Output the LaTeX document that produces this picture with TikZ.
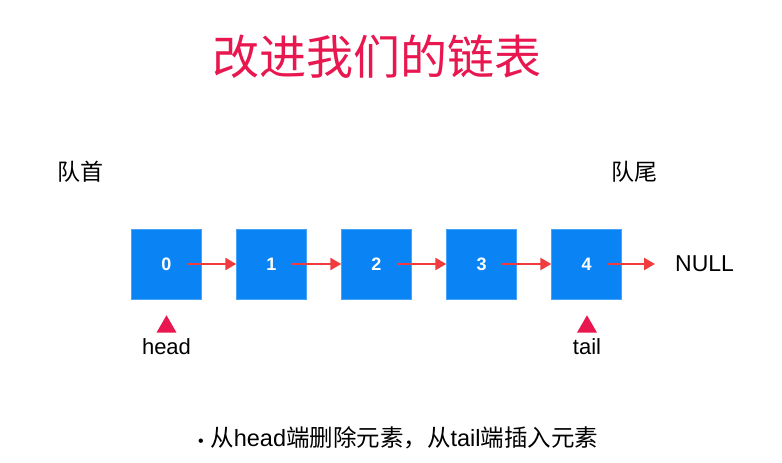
\documentclass[tikz,border=0pt]{standalone}
\usepackage{fontspec}
\setmainfont{Liberation Sans}
\newfontfamily\cjk{Noto Sans CJK SC}
\usetikzlibrary{positioning,arrows.meta,shapes.geometric}
\definecolor{cellblue}{HTML}{0A84F5}
\definecolor{linkred}{HTML}{F03C3C}
\definecolor{titlered}{HTML}{E8174F}

\begin{document}
\begin{tikzpicture}[x=1pt,y=-1pt,
    cell/.style={draw=cellblue!75!white, fill=cellblue, minimum width=70pt, minimum height=70pt, inner sep=0pt, text=white, font=\fontsize{18}{18}\selectfont\bfseries},
    link/.style={linkred, line width=2.4pt, -{Triangle[length=11pt,width=12pt]}},
    pointer/.style={fill=titlered, regular polygon, regular polygon sides=3, minimum size=23pt, inner sep=0pt},
    label/.style={inner sep=0pt, font=\fontsize{22}{22}\selectfont}]
    \useasboundingbox (0,0) rectangle (782,463);

    \node[inner sep=0pt, text=titlered, font=\cjk\fontsize{47}{47}\selectfont] (title) at (377,57) {改进我们的链表};
    \node[label, font=\cjk\fontsize{23}{23}\selectfont] (front) at (80,172) {队首};
    \node[label, font=\cjk\fontsize{23}{23}\selectfont] (rear) at (634,172) {队尾};

    \foreach \i in {0,...,4}
        \node[cell] (n\i) at (166.5+105*\i,264) {\i};
    \foreach \i [evaluate=\i as \j using int(\i+1)] in {0,...,3}
        \draw[link] ([xshift=20pt]n\i.center) -- (n\j.west);

    \node[label, anchor=west, font=\fontsize{23}{23}\selectfont] (null) at (675,264) {NULL};
    \draw[link] ([xshift=20pt]n4.center) -- ([xshift=-20pt]null.west |- n4.center);

    \node[label] (head) at (166.5,347) {head};
    \node[label] (tail) at (587,347) {tail};
    \node[pointer, above=6pt of head] (hp) {};
    \node[pointer, above=6pt of tail] (tp) {};

    \node[label, anchor=west, font=\fontsize{23.5}{23.5}\selectfont] (note) at (198,438) {{\fontsize{16}{16}\selectfont•}\ {\cjk 从}head{\cjk 端删除元素，从}tail{\cjk 端插入元素}};
\end{tikzpicture}
\end{document}
